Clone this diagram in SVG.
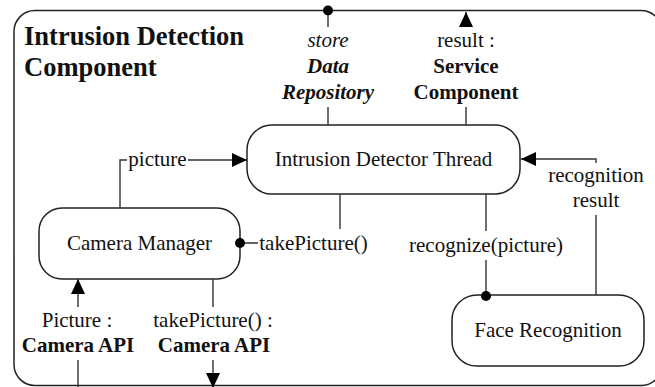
<svg xmlns="http://www.w3.org/2000/svg" width="655" height="387" viewBox="0 0 655 387">
<style>
text{font-family:"Liberation Serif","Times New Roman",serif;font-size:21px;fill:#111;text-anchor:middle}
.b{font-weight:bold}
.i{font-style:italic}
.title{font-size:26.5px;font-weight:bold;text-anchor:start}
.node{fill:#fff;stroke:#222;stroke-width:1.5}
.c{fill:none;stroke:#333;stroke-width:1.4}
.dot{fill:#000}
</style>
<defs>
<marker id="arr" viewBox="0 0 15 14" refX="15" refY="7" markerWidth="15" markerHeight="14" markerUnits="userSpaceOnUse" orient="auto">
<path d="M0,0 L15,7 L0,14 z" fill="#000"/>
</marker>
</defs>
<g id="component">
<rect x="14" y="10.5" width="648" height="375" rx="21" fill="#fff" stroke="#222" stroke-width="1.5"/>
<text class="title" x="24" y="45">Intrusion Detection</text>
<text class="title" x="24" y="76">Component</text>
</g>
<g id="intrusion-detector-thread">
<rect class="node" x="247" y="125" width="273" height="69" rx="25"/>
<text x="383.5" y="166">Intrusion Detector Thread</text>
</g>
<g id="camera-manager">
<rect class="node" x="39" y="208" width="201" height="71" rx="23"/>
<text x="139.5" y="250">Camera Manager</text>
</g>
<g id="face-recognition">
<rect class="node" x="452" y="295" width="192" height="71" rx="25"/>
<text x="548" y="337">Face Recognition</text>
</g>
<g id="connectors">
<g id="c-store">
<path class="c" d="M328,11 V27 M328,107 V125"/>
<circle class="dot" cx="328" cy="10.5" r="5"/>
<text class="i" x="328" y="47">store</text>
<text class="b i" x="328" y="73">Data</text>
<text class="b i" x="328" y="99">Repository</text>
</g>
<g id="c-result">
<path class="c" d="M466,125 V107 M466,26 V12" marker-end="url(#arr)"/>
<text x="466" y="47">result :</text>
<text class="b" x="466" y="73">Service</text>
<text class="b" x="466" y="99">Component</text>
</g>
<g id="c-picture">
<path class="c" d="M120,208 V160 H127 M188,160 H247" marker-end="url(#arr)"/>
<text x="157.5" y="166">picture</text>
</g>
<g id="c-recresult">
<path class="c" d="M596,295 V215 M596,163 V159 H521" marker-end="url(#arr)"/>
<text x="596" y="182">recognition</text>
<text x="596" y="207">result</text>
</g>
<g id="c-takepicture">
<path class="c" d="M244,243 H258 M340,229 V194"/>
<circle class="dot" cx="240" cy="243" r="5"/>
<text x="313.5" y="250">takePicture()</text>
</g>
<g id="c-recognize">
<path class="c" d="M486,194 V231 M486,260 V296"/>
<circle class="dot" cx="486" cy="296" r="5"/>
<text x="486" y="252">recognize(picture)</text>
</g>
<g id="c-camapi-in">
<path class="c" d="M78,387 V360 M78,307 V279" marker-end="url(#arr)"/>
<text x="77" y="327">Picture :</text>
<text class="b" x="78" y="352">Camera API</text>
</g>
<g id="c-camapi-out">
<path class="c" d="M213,279 V307 M213,360 V388" marker-end="url(#arr)"/>
<text x="213" y="327">takePicture() :</text>
<text class="b" x="214" y="352">Camera API</text>
</g>
</g>
</svg>
